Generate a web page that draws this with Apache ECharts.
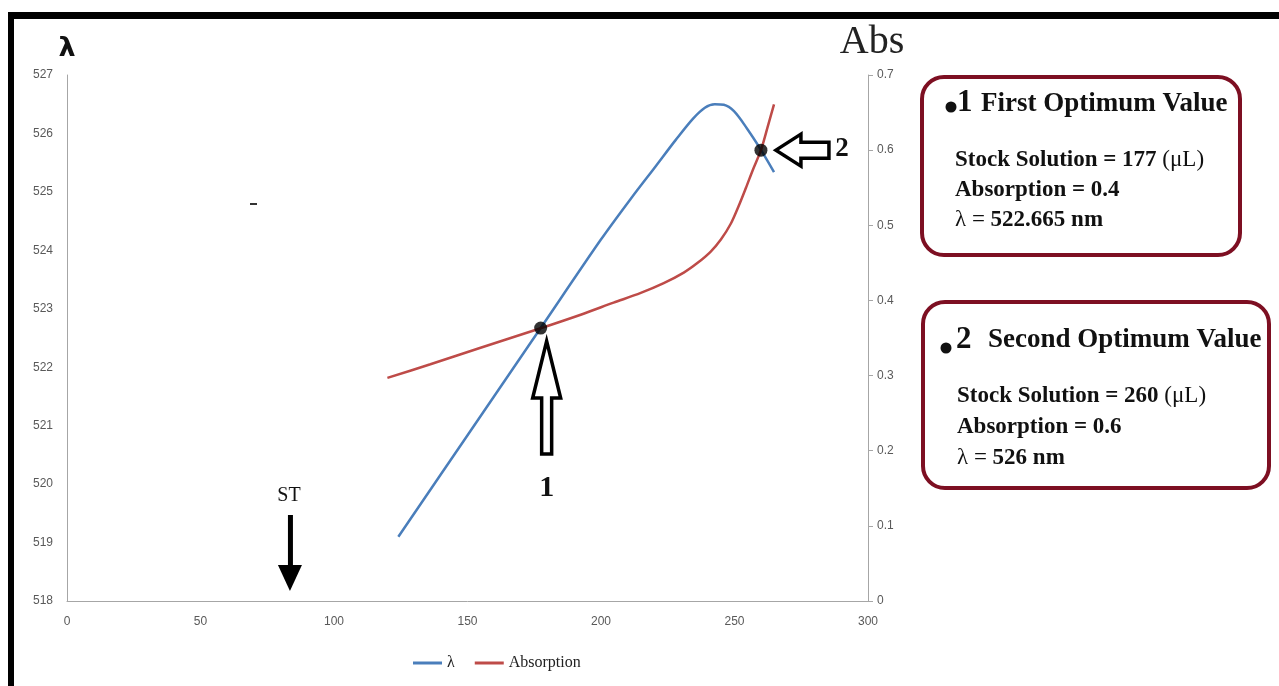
<!DOCTYPE html>
<html>
<head>
<meta charset="utf-8">
<script src="https://cdn.jsdelivr.net/npm/echarts@6/dist/echarts.min.js"></script>
<style>
html,body{margin:0;padding:0;background:#fff;}
#chart{width:1279px;height:686px;}
</style>
</head>
<body>
<div id="chart"></div>
<script>
// ---- data ----
const lambdaX = [124.1, 151.1, 177.4, 199.9, 211.1, 220.5, 228.0, 234.4, 238.9, 242.6, 246.0, 249.8, 254.6, 259.9, 264.8];
const lambdaY = [519.10, 520.91, 522.67, 524.18, 524.88, 525.44, 525.89, 526.25, 526.44, 526.50, 526.49, 526.38, 526.09, 525.72, 525.34];
const absX = [120.0, 136.1, 154.9, 177.4, 192.4, 204.7, 214.9, 223.5, 231.0, 236.2, 241.1, 244.9, 248.6, 251.6, 254.3, 256.9, 259.9, 262.5, 264.8];
const absY = [0.297, 0.315, 0.337, 0.363, 0.381, 0.397, 0.410, 0.423, 0.437, 0.450, 0.465, 0.481, 0.502, 0.526, 0.550, 0.574, 0.600, 0.632, 0.661];
const optimum1 = [177.4, 522.67];   // on λ axis
const optimum2 = [259.9, 0.600];    // on Abs axis
const stX = 83.5;                   // ST marker position on x axis
const xTicks = {min: 0, max: 300, interval: 50};
const lambdaTicks = {min: 518, max: 527, interval: 1};
const absTicks = {min: 0, max: 0.7, interval: 0.1};
const seriesNames = ['λ', 'Absorption'];

const zip = (a, b) => a.map((v, i) => [v, b[i]]);

const chart = echarts.init(document.getElementById('chart'));
const tickFont = {fontFamily: 'Liberation Sans, Arial, sans-serif', fontSize: 12, color: '#595959'};
const serif = 'Liberation Serif, Times New Roman, serif';
const BLUE = '#4a7ebb', RED = '#be4b48', BOX = '#7d0f22';

const option = {
  animation: false,
  backgroundColor: '#fff',
  grid: {left: 67, right: 411, top: 75, bottom: 85},
  legend: {
    data: [{name: seriesNames[0], icon: 'rect'}, {name: seriesNames[1], icon: 'rect'}],
    left: 408, top: 650,
    itemWidth: 29, itemHeight: 3, itemGap: 20,
    textStyle: {fontFamily: serif, fontSize: 16, color: '#222'}
  },
  xAxis: {
    type: 'value', min: xTicks.min, max: xTicks.max, interval: xTicks.interval,
    axisLine: {show: true, onZero: false, lineStyle: {color: '#a6a6a6', width: 1}},
    axisTick: {show: false}, splitLine: {show: false},
    axisLabel: Object.assign({margin: 15}, tickFont)
  },
  yAxis: [{
    type: 'value', min: lambdaTicks.min, max: lambdaTicks.max, interval: lambdaTicks.interval,
    name: 'λ', nameLocation: 'end', nameGap: 13,
    nameTextStyle: {fontFamily: 'DejaVu Sans, sans-serif', fontWeight: 'bold', fontSize: 27, color: '#111', align: 'center'},
    axisLine: {show: true, lineStyle: {color: '#a6a6a6', width: 1}},
    axisTick: {show: false}, splitLine: {show: false},
    axisLabel: Object.assign({margin: 14}, tickFont)
  }, {
    type: 'value', min: absTicks.min, max: absTicks.max, interval: absTicks.interval,
    position: 'right',
    name: 'Abs', nameLocation: 'end', nameGap: 13,
    nameTextStyle: {fontFamily: serif, fontSize: 40, color: '#222', align: 'center', padding: [0, 0, 0, 8]},
    axisLine: {show: true, lineStyle: {color: '#a6a6a6', width: 1}},
    axisTick: {show: true, length: 5, lineStyle: {color: '#a6a6a6'}}, splitLine: {show: false},
    axisLabel: Object.assign({margin: 9, formatter: v => String(+v.toFixed(1))}, tickFont)
  }],
  series: [{
    name: seriesNames[0], type: 'line', yAxisIndex: 0, smooth: 0.3, symbol: 'none',
    data: zip(lambdaX, lambdaY), lineStyle: {color: BLUE, width: 2.5}, itemStyle: {color: BLUE}, z: 2
  }, {
    name: seriesNames[1], type: 'line', yAxisIndex: 1, smooth: 0.3, symbol: 'none',
    data: zip(absX, absY), lineStyle: {color: RED, width: 2.5}, itemStyle: {color: RED}, z: 2
  }, {
    name: 'opt1', type: 'scatter', yAxisIndex: 0, data: [optimum1], symbolSize: 13,
    itemStyle: {color: '#000'}, z: 5
  }, {
    name: 'opt2', type: 'scatter', yAxisIndex: 1, data: [optimum2], symbolSize: 13,
    itemStyle: {color: '#000'}, z: 5
  }]
};
chart.setOption(option);

// ---- annotations placed from data coordinates ----
const p1 = chart.convertToPixel({xAxisIndex: 0, yAxisIndex: 0}, optimum1);
const p2 = chart.convertToPixel({xAxisIndex: 0, yAxisIndex: 1}, optimum2);
const stPx = chart.convertToPixel({xAxisIndex: 0}, stX);

function txt(x, y, text, font, extra) {
  return Object.assign({type: 'text', x: x, y: y, z: 100,
    style: Object.assign({text: text, font: font, fill: '#111', textVerticalAlign: 'middle'}, extra || {})});
}
const bold20 = 'bold 23px ' + serif;
const reg20 = '23px ' + serif;
const titleFont = 'bold 27px ' + serif;
const rich = {
  b: {font: bold20, fill: '#111'},
  r: {font: reg20, fill: '#111'}
};

const graphics = [
  // frame
  {type: 'rect', shape: {x: 8, y: 12, width: 1271, height: 7}, style: {fill: '#000'}, z: 50},
  {type: 'rect', shape: {x: 8, y: 12, width: 6, height: 674}, style: {fill: '#000'}, z: 50},
  // stray mark
  {type: 'rect', shape: {x: 250, y: 203, width: 7, height: 2}, style: {fill: '#333'}, z: 50},
  // arrow 1 (hollow, pointing up)
  {type: 'polygon', x: p1[0] + 6, y: p1[1] + 13, z: 60,
    shape: {points: [[0,0],[14,57],[5,57],[5,113],[-5,113],[-5,57],[-14,57]]},
    style: {fill: '#fff', stroke: '#000', lineWidth: 3.5, lineJoin: 'miter'}},
  txt(p1[0] + 6, p1[1] + 160, '1', 'bold 30px ' + serif, {textAlign: 'center'}),
  // arrow 2 (hollow, pointing left)
  {type: 'polygon', x: p2[0] + 15, y: p2[1], z: 60,
    shape: {points: [[0,0],[25,-16],[25,-8],[53,-8],[53,8],[25,8],[25,16]]},
    style: {fill: '#fff', stroke: '#000', lineWidth: 3.5, lineJoin: 'miter'}},
  txt(p2[0] + 81, p2[1] - 1, '2', 'bold 27px ' + serif, {textAlign: 'center'}),
  // ST arrow (solid, pointing down)
  txt(stPx - 1, 496, 'ST', '20px ' + serif, {textAlign: 'center'}),
  {type: 'rect', shape: {x: stPx - 2, y: 515, width: 5, height: 52}, style: {fill: '#000'}, z: 60},
  {type: 'polygon', shape: {points: [[stPx - 12, 565],[stPx + 12, 565],[stPx, 591]]}, style: {fill: '#000'}, z: 60},
  // box 1
  {type: 'rect', z: 40, shape: {x: 922, y: 77, width: 318, height: 178, r: 22},
    style: {fill: '#fff', stroke: BOX, lineWidth: 4}},
  {type: 'circle', z: 100, shape: {cx: 951, cy: 107, r: 5.5}, style: {fill: '#111'}},
  txt(957, 103, '1', 'bold 31px ' + serif),
  txt(981, 104, 'First Optimum Value', titleFont),
  txt(955, 160, '{b|Stock Solution = 177 }{r|(μL)}', bold20, {rich: rich}),
  txt(955, 190, 'Absorption = 0.4', bold20),
  txt(955, 220, '{r|λ = }{b|522.665 nm}', bold20, {rich: rich}),
  // box 2
  {type: 'rect', z: 40, shape: {x: 923, y: 302, width: 346, height: 186, r: 22},
    style: {fill: '#fff', stroke: BOX, lineWidth: 4}},
  {type: 'circle', z: 100, shape: {cx: 946, cy: 348, r: 5.5}, style: {fill: '#111'}},
  txt(956, 340, '2', 'bold 31px ' + serif),
  txt(988, 340, 'Second Optimum Value', titleFont),
  txt(957, 396, '{b|Stock Solution = 260 }{r|(μL)}', bold20, {rich: rich}),
  txt(957, 427, 'Absorption = 0.6', bold20),
  txt(957, 458, '{r|λ = }{b|526 nm}', bold20, {rich: rich})
];
chart.setOption({graphic: graphics});
</script>
</body>
</html>
